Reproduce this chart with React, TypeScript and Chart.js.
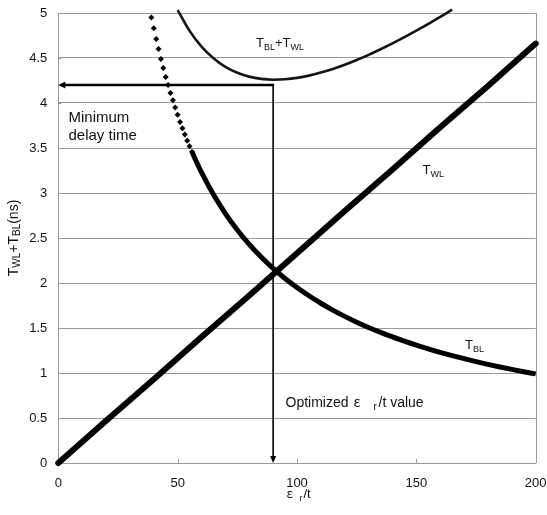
import React, { useEffect, useRef } from "react";
import { Chart, registerables } from "chart.js";

Chart.register(...registerables);

// ---- data ----
const WL_X = [0, 20, 40, 60, 80, 100, 120, 140, 160, 180, 200];
const WL_Y = [0, 0.47, 0.93, 1.4, 1.86, 2.33, 2.8, 3.26, 3.73, 4.19, 4.66];

const BL_X = [39, 40, 41, 42, 43, 44, 45, 46, 47, 48, 49, 50, 51, 52, 53, 54, 55, 56, 58, 60, 65, 70, 75, 80, 85, 90, 95, 100, 105, 110, 115, 120, 125, 130, 135, 140, 145, 150, 155, 160, 165, 170, 175, 180, 185, 190, 195, 200];
const BL_Y = [4.95, 4.83, 4.71, 4.6, 4.49, 4.39, 4.29, 4.2, 4.11, 4.03, 3.95, 3.87, 3.79, 3.72, 3.65, 3.58, 3.519, 3.457, 3.339, 3.228, 2.982, 2.771, 2.589, 2.429, 2.288, 2.162, 2.05, 1.949, 1.858, 1.775, 1.699, 1.629, 1.565, 1.506, 1.451, 1.401, 1.353, 1.309, 1.268, 1.229, 1.193, 1.159, 1.127, 1.096, 1.067, 1.04, 1.014, 0.99];

const SUM_X = [50, 55, 60, 65, 70, 75, 80, 85, 90, 95, 100, 105, 110, 115, 120, 125, 130, 135, 140, 145, 150, 155, 160, 165];
const SUM_Y = [5.033, 4.801, 4.626, 4.497, 4.402, 4.336, 4.293, 4.268, 4.259, 4.264, 4.279, 4.304, 4.338, 4.378, 4.425, 4.478, 4.535, 4.597, 4.663, 4.732, 4.804, 4.88, 4.957, 5.038];

const X_TICKS = [0, 50, 100, 150, 200];
const Y_TICKS = [0, 0.5, 1, 1.5, 2, 2.5, 3, 3.5, 4, 4.5, 5];

const OPT_X = 90; // optimized εr/t
const MIN_Y = 4.2; // minimum delay time
const DOT_LIMIT = 56; // T_BL drawn as separate diamonds up to here

// ---- styles ----
const FONT = "'Liberation Sans', Arial, sans-serif";
const CJK = "'Noto Sans CJK JP', 'Liberation Sans', sans-serif";
const GRID = "#9a9a9a";

type Part = { t: string; sub?: boolean; font?: string; at?: number };

function drawRich(
  ctx: CanvasRenderingContext2D,
  parts: Part[],
  x: number,
  y: number,
  size: number,
  subSize: number,
  subDy: number,
  measureOnly = false
) {
  let cx = x;
  for (const p of parts) {
    const s = p.sub ? subSize : size;
    ctx.font = `${s}px ${p.font || FONT}`;
    if (p.at !== undefined) cx = x + p.at;
    if (!measureOnly) ctx.fillText(p.t, cx, p.sub ? y + subDy : y);
    cx += ctx.measureText(p.t).width;
  }
  return cx - x;
}

const decor = {
  id: "decor",
  beforeDatasetsDraw(chart: any) {
    const { ctx, chartArea: a, scales } = chart;
    const xs = scales.x;
    const ys = scales.y;
    ctx.save();
    // right frame border
    ctx.strokeStyle = GRID;
    ctx.lineWidth = 1;
    ctx.beginPath();
    const rx = Math.round(a.right) + 0.5;
    ctx.moveTo(rx, a.top);
    ctx.lineTo(rx, a.bottom);
    // inner tick marks
    X_TICKS.forEach((v) => {
      const px = Math.round(xs.getPixelForValue(v)) + 0.5;
      ctx.moveTo(px, a.bottom);
      ctx.lineTo(px, a.bottom - 4);
    });
    Y_TICKS.forEach((v) => {
      const py = Math.round(ys.getPixelForValue(v)) + 0.5;
      ctx.moveTo(a.left, py);
      ctx.lineTo(a.left + 3, py);
    });
    ctx.stroke();

    // arrows
    const ox = xs.getPixelForValue(OPT_X);
    const my = ys.getPixelForValue(MIN_Y);
    const x0 = xs.getPixelForValue(0);
    const y0 = ys.getPixelForValue(0);
    ctx.strokeStyle = "#000";
    ctx.fillStyle = "#000";
    ctx.lineWidth = 2.6;
    ctx.beginPath();
    ctx.moveTo(ox + 1, my);
    ctx.lineTo(x0 + 5, my);
    ctx.stroke();
    ctx.beginPath();
    ctx.moveTo(x0, my);
    ctx.lineTo(x0 + 7, my - 3.5);
    ctx.lineTo(x0 + 7, my + 3.5);
    ctx.closePath();
    ctx.fill();

    ctx.lineWidth = 1.6;
    ctx.beginPath();
    ctx.moveTo(ox, my);
    ctx.lineTo(ox, y0 - 5);
    ctx.stroke();
    ctx.beginPath();
    ctx.moveTo(ox, y0);
    ctx.lineTo(ox - 3, y0 - 7);
    ctx.lineTo(ox + 3, y0 - 7);
    ctx.closePath();
    ctx.fill();
    ctx.restore();
  },
  afterDraw(chart: any) {
    const { ctx } = chart;
    ctx.save();
    ctx.fillStyle = "#111";
    ctx.textBaseline = "alphabetic";
    ctx.textAlign = "left";

    // T_BL + T_WL label
    drawRich(
      ctx,
      [{ t: "T" }, { t: "BL", sub: true }, { t: "+T" }, { t: "WL", sub: true }],
      256, 47, 13, 9, 2.5
    );
    // T_WL
    drawRich(ctx, [{ t: "T" }, { t: "WL", sub: true }], 422.5, 174, 13, 9, 2.5);
    // T_BL
    drawRich(ctx, [{ t: "T" }, { t: "BL", sub: true }], 465, 349, 13, 9, 2.5);

    // Minimum delay time
    ctx.font = `15px ${FONT}`;
    ctx.fillText("Minimum", 68.5, 121.5);
    ctx.fillText("delay time", 68.5, 140);

    // Optimized εr/t value
    drawRich(
      ctx,
      [
        { t: "Optimized" },
        { t: "ε", font: CJK, at: 68 },
        { t: "r", sub: true, at: 88 },
        { t: "/t value", at: 93 },
      ],
      285.5, 406.5, 14, 10, 3
    );

    // x axis title
    drawRich(
      ctx,
      [
        { t: "ε", font: CJK },
        { t: "r", sub: true, at: 13 },
        { t: "/t", at: 17 },
      ],
      286.5, 498, 13, 9, 2.5
    );

    // y axis title (rotated)
    const yParts: Part[] = [
      { t: "T" },
      { t: "WL", sub: true },
      { t: "+T" },
      { t: "BL", sub: true },
      { t: "(ns)" },
    ];
    const w = drawRich(ctx, yParts, 0, 0, 14, 10, 2.5, true);
    ctx.translate(17.5, 238);
    ctx.rotate(-Math.PI / 2);
    drawRich(ctx, yParts, -w / 2, 0, 14, 10, 2.5);
    ctx.restore();
  },
};

export default function App() {
  const ref = useRef<HTMLCanvasElement | null>(null);

  useEffect(() => {
    if (!ref.current) return;
    const pts = (xs: number[], ys: number[]) => xs.map((x, i) => ({ x, y: ys[i] }));
    const chart = new Chart(ref.current, {
      type: "line",
      data: {
        datasets: [
          {
            label: "TBL+TWL",
            data: pts(SUM_X, SUM_Y),
            borderColor: "#151515",
            borderWidth: 2.6,
            pointRadius: 0,
            cubicInterpolationMode: "monotone",
            clip: false,
          } as any,
          {
            label: "TBL",
            data: pts(BL_X, BL_Y),
            borderColor: "#000",
            borderWidth: 5,
            pointStyle: "rectRot",
            pointBackgroundColor: "#000",
            pointBorderWidth: 0,
            pointRadius: (c: any) => (c.raw && c.raw.x <= DOT_LIMIT ? 3 : 0),
            segment: {
              borderColor: (c: any) => (c.p1.parsed.x <= DOT_LIMIT ? "rgba(0,0,0,0)" : "#000"),
            },
            cubicInterpolationMode: "monotone",
            clip: false,
          } as any,
          {
            label: "TWL",
            data: pts(WL_X, WL_Y),
            borderColor: "#000",
            borderWidth: 6,
            borderCapStyle: "round",
            pointRadius: 0,
            clip: false,
          } as any,
        ],
      },
      options: {
        responsive: false,
        animation: false,
        devicePixelRatio: 1,
        layout: { padding: { left: 0, right: 11.3, top: 13, bottom: 0 } },
        plugins: { legend: { display: false }, tooltip: { enabled: false } },
        scales: {
          x: {
            type: "linear",
            min: 0,
            max: 200,
            afterBuildTicks: (s: any) => {
              s.ticks = X_TICKS.map((v) => ({ value: v }));
            },
            afterFit: (s: any) => {
              s.height = 52;
              s.paddingLeft = 0;
              s.paddingRight = 0;
            },
            grid: { display: false, drawTicks: false },
            border: { display: true, color: GRID, width: 1 },
            ticks: {
              padding: 13,
              color: "#111",
              font: { family: FONT, size: 13 },
              maxRotation: 0,
              callback: (v: any) => String(v),
            },
          },
          y: {
            type: "linear",
            min: 0,
            max: 5,
            afterBuildTicks: (s: any) => {
              s.ticks = Y_TICKS.map((v) => ({ value: v }));
            },
            afterFit: (s: any) => {
              s.width = 58.3;
              s.paddingTop = 0;
              s.paddingBottom = 0;
            },
            grid: { color: GRID, lineWidth: 1, drawTicks: false },
            border: { display: true, color: GRID, width: 1 },
            ticks: {
              padding: 11,
              color: "#111",
              font: { family: FONT, size: 13 },
              callback: (v: any) => String(v),
            },
          },
        },
      },
      plugins: [decor],
    } as any);
    return () => chart.destroy();
  }, []);

  return (
    <div style={{ position: "fixed", left: 0, top: 0, width: 547, height: 515, background: "#fff" }}>
      <canvas ref={ref} width={547} height={515} style={{ display: "block" }} />
    </div>
  );
}
